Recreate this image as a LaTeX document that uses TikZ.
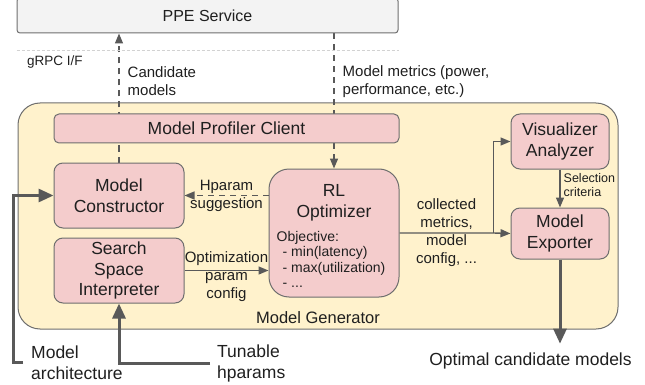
\documentclass[tikz,border=0pt]{standalone}
\usepackage{fontspec}
\setmainfont{Liberation Sans}
\usetikzlibrary{arrows.meta,calc}

\definecolor{boxpink}{HTML}{F4CCCC}
\definecolor{genyellow}{HTML}{FFF2CC}
\definecolor{svcgray}{HTML}{F3F3F3}
\definecolor{edgegray}{HTML}{6E6E6E}
\definecolor{wiregray}{HTML}{595959}
\definecolor{inkgray}{HTML}{1F1F1F}

\pgfdeclarelayer{back}
\pgfdeclarelayer{mid}
\pgfsetlayers{back,mid,main}

\tikzset{
  block/.style={draw=edgegray, fill=boxpink, line width=1pt, rounded corners=9pt,
    align=center, inner sep=0pt, text=inkgray, font=\fontsize{17.5}{20.5}\selectfont},
  lbl/.style={inner sep=0pt, align=center, text=inkgray, font=\fontsize{15}{18}\selectfont},
  biglbl/.style={lbl, align=left, font=\fontsize{17.5}{21}\selectfont},
  wire/.style={draw=wiregray, line width=1.4pt, -{Triangle[length=10pt,width=8pt]}},
  dwire/.style={wire, dash pattern=on 6pt off 5pt},
  fatwire/.style={draw=wiregray, line width=3pt, -{Triangle[length=15pt,width=13pt]}},
}

\begin{document}
\begin{tikzpicture}[x=1pt, y=-1pt]
\useasboundingbox (0,0) rectangle (645,385);

% service and the interface line under it
\node[block, fill=svcgray, rounded corners=3pt, minimum width=381pt, minimum height=35pt,
  font=\fontsize{16}{19}\selectfont] (ppe) at (207.5,15.5) {PPE Service};
\draw[gray!35, line width=0.8pt, dash pattern=on 3pt off 2pt]
  ([yshift=-17pt]ppe.south west) -- ([yshift=-17pt]ppe.south east);
\node[lbl, anchor=west, font=\fontsize{13.5}{16}\selectfont] (grpc) at (27,62) {gRPC I/F};

% generator frame
\begin{pgfonlayer}{back}
\node[draw=edgegray, fill=genyellow, line width=1pt, rounded corners=22pt,
  minimum width=600pt, minimum height=226pt] (gen) at (318,216) {};
\end{pgfonlayer}
\node[lbl, font=\fontsize{16.5}{19}\selectfont] (genlbl) at ([yshift=12pt]gen.south) {Model Generator};

% blocks
\node[block, rounded corners=5pt, minimum width=345pt, minimum height=29pt] (mpc) at (226.5,128.5) {Model Profiler Client};
\node[block, minimum width=130pt, minimum height=65pt] (mc) at (119,195.5) {Model\\Constructor};
\node[block, minimum width=130pt, minimum height=65pt] (ssi) at (119,270.5) {Search\\Space\\Interpreter};
\node[block, rounded corners=20pt, minimum width=130pt, minimum height=128pt] (rl) at (334,233) {};
\node[block, draw=none, fill=none] (rltitle) at ([yshift=-34.5pt]rl.north) {RL\\Optimizer};
\node[lbl, anchor=west, align=left, font=\fontsize{14}{15.5}\selectfont] (obj)
  at ([xshift=8pt, yshift=-26.5pt]rl.west)
  {Objective:\\\hspace{6pt}- min(latency)\\\hspace{6pt}- max(utilization)\\\hspace{6pt}- ...};
\node[block, minimum width=98pt, minimum height=55pt] (va) at (560,141.5) {Visualizer\\Analyzer};
\node[block, minimum width=98pt, minimum height=51pt] (me) at (560,233.5) {Model\\Exporter};

% outside inputs and output
\node[biglbl, anchor=west] (arch) at (31,362.5) {Model\\architecture};
\node[biglbl, anchor=west] (tun) at (217,363) {Tunable\\hparams};
\node[biglbl] (optm) at (530.5,361) {Optimal candidate models};

\coordinate (fork) at ([xshift=94pt]rl.east);

\begin{pgfonlayer}{mid}
\draw[dwire] (mc.north) -- node[lbl, pos=0.63, anchor=west, align=left, xshift=8pt] {Candidate\\models} (mc.north |- ppe.south);
\draw[dwire] (rl.north |- ppe.south) -- node[lbl, pos=0.36, anchor=west, align=left, xshift=8pt] {Model metrics (power,\\performance, etc.)} (rl.north);
\end{pgfonlayer}

\draw[dwire] (mc.east -| rl.west) -- node[lbl] {Hparam\\suggestion} (mc.east);
\draw[wire] (ssi.east) -- node[lbl, yshift=-6.5pt] {Optimization\\param\\config} (ssi.east -| rl.west);
\draw[wire] (rl.east) -- node[lbl] {collected\\metrics,\\model\\config, ...} (fork) -- (me.west);
\draw[wire] (fork) |- (va.west);
\draw[wire] (va.south) -- node[lbl, pos=0.42, anchor=west, align=left, xshift=3pt,
  font=\fontsize{12.5}{14}\selectfont] {Selection\\criteria} (me.north);

\draw[fatwire] (me.south) -- ([yshift=9pt]me.south |- optm.north);
\draw[fatwire] ([xshift=-8pt]arch.west) -- ++(-10,0) |- (mc.west);
\draw[fatwire] ([xshift=-7pt]tun.west) -| (ssi.south);

\end{tikzpicture}
\end{document}
